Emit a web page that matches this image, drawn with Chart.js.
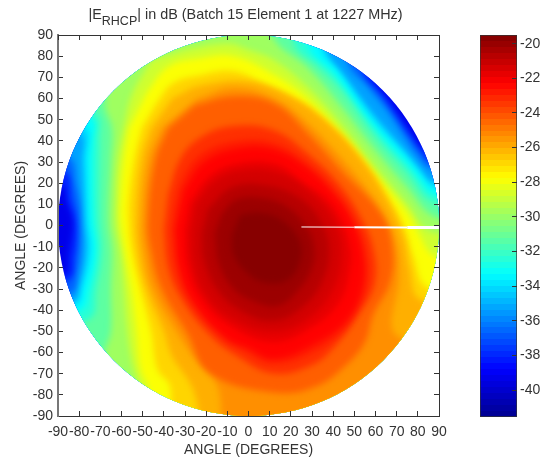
<!DOCTYPE html>
<html>
<head>
<meta charset="utf-8">
<script src="https://cdn.jsdelivr.net/npm/chart.js@4"></script>
<style>
body { margin: 0; background: #fff; }
canvas { position: absolute; left: 0; top: 0; }
#title { position: absolute; left: 0; width: 491px; top: 6px; text-align: center; font: 14.4px "Liberation Sans", Arial, sans-serif; color: #333; white-space: nowrap; }
#title span { font-size: 12.5px; position: relative; top: 6px; }
</style>
</head>
<body>
<canvas id="myChart" width="550" height="461"></canvas>
<canvas id="colorBar" width="550" height="461"></canvas>
<div id="title">|E<span>RHCP</span>| in dB (Batch 15 Element 1 at 1227 MHz)</div>
<script>
const angleTicks = [-90, -80, -70, -60, -50, -40, -30, -20, -10, 0, 10, 20, 30, 40, 50, 60, 70, 80, 90];
const dbTicks = [-40, -38, -36, -34, -32, -30, -28, -26, -24, -22, -20];
const dbMin = -41.55;
const dbMax = -19.5;
const jetStops = [[0, 0, 0, 143], [0.125, 0, 0, 255], [0.375, 0, 255, 255], [0.625, 255, 255, 0], [0.875, 255, 0, 0], [1, 128, 0, 0]];
const seamLine = [[25, -0.7], [50, -0.8], [75, -1], [90, -1]];
const seamWidths = [1, 2, 3];

// contour levels in dB, each with the outline of the area above that level
const levels = [-39.8, -38.8, -37.4, -36, -34.6, -33.8, -32.8, -32, -30.5, -29.2, -28.4, -27.3, -26.4, -25.7, -25, -23.6, -23, -22.7, -21.9, -21.6, -21, -20.4, -19.8];
const c398 = [[-120, 120], [-120, -120], [120, -120], [120, 120]];
const c388 = [[-110, 110], [-110, 24], [-87.5, 18], [-86, 12], [-83, 2.5], [-83.5, -5], [-85, -14], [-86.5, -22.5], [-110, -30], [-110, -110], [110, -110], [110, 36], [82, 37], [78, 42], [72, 51], [66, 60], [60, 68], [55, 110]];
const c374 = [[-110, 110], [-110, 40], [-86, 25], [-83.5, 12], [-81, 2.5], [-81, -8], [-82, -15], [-84, -25], [-110, -35], [-110, -110], [110, -110], [110, 28], [86, 30], [82, 34], [76, 42], [69, 52], [62, 62], [54, 72], [50, 110]];
const c360 = [[-110, 110], [-110, 48], [-84.5, 32], [-81.5, 20], [-79.5, 10], [-79, 2.5], [-79, -10], [-80.5, -22], [-83.5, -32], [-110, -40], [-110, -110], [110, -110], [110, 22], [86, 27], [80, 33], [73, 43], [65, 55], [56, 66], [47, 77], [42, 110]];
const c346 = [[-110, 110], [-110, 60], [-79.5, 43], [-78.5, 30], [-77.5, 12], [-77, 2], [-76.5, -12], [-79, -28], [-82, -36], [-110, -45], [-110, -110], [110, -110], [110, 16], [86, 21], [80, 27.5], [72, 37], [64, 46.5], [56, 56], [48, 66], [38, 79], [33, 110]];
const c338 = [[-110, 110], [-110, 70], [-77, 46], [-76.5, 31], [-76, 12], [-75.8, 2], [-74.7, -12], [-78.5, -30], [-81, -37], [-110, -48], [-110, -110], [110, -110], [110, 14], [87, 18.5], [81, 25], [74, 33.5], [66, 42], [59, 50], [51, 61], [42, 74], [35, 82], [28, 110]];
const c328 = [[-110, 110], [-110, 78], [-73.5, 50], [-73.5, 40], [-74, 31], [-73.5, 3], [-72, -12], [-75.5, -30.6], [-79, -40], [-110, -52], [-110, -110], [110, -110], [110, 11], [87, 15], [81, 21.5], [75, 29], [67, 37.5], [60, 45.5], [50, 58], [40, 72], [29, 83], [23, 110]];
const c320 = [[-110, 110], [-110, 85], [-72, 53], [-70.5, 40], [-70.5, 31], [-70.5, 3], [-69.5, -12], [-72, -30.6], [-75, -44], [-110, -55], [-110, -110], [110, -110], [110, 8], [87, 11], [75, 25], [60, 42], [44, 64], [33, 75], [22, 85], [18, 110]];
const c305 = [[-60, 110], [-67.7, 57.7], [-64.5, 46], [-65, 31], [-66, 2.5], [-64.5, -12], [-65, -30], [-65, -50], [-68, -60], [-75, -110], [110, -110], [110, 1], [88, 4], [75, 18], [60, 35.5], [44, 56], [28, 74.5], [12, 88], [5, 110]];
const c292 = [[-46, 78], [-55, 62], [-59, 46], [-62, 27.5], [-62.5, 12], [-62.5, 0], [-60.5, -12], [-59, -30.6], [-57.4, -49.5], [-55, -65], [-52, -76], [-50, -110], [110, -110], [110, -6], [86, -3], [75, 10], [60, 28], [44, 48], [28, 65.5], [12.5, 78], [0, 83], [-10, 86], [-30, 83]];
const c284 = [[-56.5, 46], [-59, 31], [-60.5, 12], [-60.5, 2.5], [-58.5, -12], [-55.5, -30], [-53, -50], [-51, -68], [-47, -78], [-44, -110], [110, -110], [110, -25], [87, -14], [81, -5], [75, 6], [60, 24], [44, 43.5], [28, 60], [12.5, 71], [-7, 80], [-23, 79], [-38, 75], [-48, 63]];
const c273 = [[-50.5, 46], [-54, 31], [-56.5, 12], [-56.5, 2.5], [-55, -12], [-51, -30], [-46, -50], [-43, -68], [-37, -76], [-34, -110], [110, -110], [110, -37], [84, -29], [78, -15], [74, -2], [68, 10], [56, 28], [40, 45.5], [24, 58.5], [8, 66.5], [-7, 73], [-23, 71], [-36, 67], [-44, 57]];
const c264 = [[-46, 46], [-50.5, 31], [-53, 2.5], [-52, -12], [-48, -30], [-40, -50], [-36, -62], [-27.6, -74.5], [-24, -85], [-20, -110], [110, -110], [110, -40], [81, -35], [76, -20], [73, -5], [65, 13], [52, 33], [36, 50], [20, 61], [0, 68], [-23, 66], [-36, 60]];
const c257 = [[-41, 46], [-47, 31], [-50, 2.5], [-49, -12], [-45, -30], [-34, -50], [-26, -62], [-15, -75], [-6, -110], [110, -110], [110, -60], [70, -52], [71, -25], [70, -10], [65, 3], [56, 17], [40, 36], [26, 50], [12, 60], [-7, 65], [-24, 60]];
const c250 = [[-38, 46], [-44, 31], [-47.5, 2.5], [-46, -12], [-41, -30], [-29, -50.8], [-18, -70], [13.5, -79], [32, -76], [46, -66], [55, -55], [59, -42], [66.8, -27], [68, -11], [63, 5], [44, 26], [28, 43.5], [12.5, 57.5], [-7, 61], [-25, 57]];
const c236 = [[-40, -2], [-38, -20], [-32, -34], [-19, -51], [-5, -62], [12, -70], [30, -66], [40, -58], [52, -42], [59.7, -27], [59, -11], [54, 2], [44, 18], [28, 34], [12, 45], [-7, 47], [-22, 42], [-32, 32], [-38, 15]];
const c230 = [[-36, -2], [-34, -20], [-28, -35], [-14, -51], [-2, -59], [12, -65], [30, -60], [44, -50], [52, -38], [56, -27], [55, -11], [50, 2], [42, 15], [28, 29], [12, 39], [-5, 40], [-22, 34], [-31, 22], [-35, 8]];
const c227 = [[-34.5, -2], [-32.5, -20], [-26, -36], [-11, -53], [0, -58], [12, -63], [31, -56], [47, -44], [54, -28], [53.5, -11], [48.5, 3], [41, 14], [28, 27], [12, 36], [-4.5, 36.5], [-21, 30], [-30.5, 17]];
const c219 = [[-30, -2.5], [-28.5, -19], [-22, -34.5], [-8.5, -47.5], [12, -55], [30, -48], [43, -36], [48, -20], [48, -10], [43.5, 3], [35, 14], [26, 20], [13, 29], [-4, 29.5], [-18, 23.5], [-27.5, 11]];
const c216 = [[-27, -3], [-26, -18], [-20, -33], [-8, -44], [12, -50], [28, -44], [40, -30], [44, -12], [40, 3], [30, 15], [14, 25], [-4, 26], [-16, 21], [-25, 10]];
const c210 = [[-22, -4], [-21, -16], [-15, -30], [-4, -40], [12, -45], [26, -38], [35, -26], [38, -11], [34, 2], [24, 13], [8, 19], [-8, 18], [-19, 8]];
const c204 = [[-16, -4], [-14, -18], [-7, -30], [3, -36], [14, -38], [24, -30], [30, -20], [31, -10], [27, 0], [18, 9], [6, 13], [-6, 12], [-13, 5]];
const c198 = [[-8, -5], [-7, -14], [0, -23], [8, -27], [18, -26], [24, -18], [24, -7], [15, 3], [5, 6], [-4, 5]];
const contours = [c398, c388, c374, c360, c346, c338, c328, c320, c305, c292, c284, c273, c264, c257, c250, c236, c230, c227, c219, c216, c210, c204, c198];

function jet(db) {
    const t = Math.min(1, Math.max(0, (db - dbMin) / (dbMax - dbMin)));
    let i = 0;
    while (i < jetStops.length - 2 && t > jetStops[i + 1][0]) i++;
    const a = jetStops[i], b = jetStops[i + 1];
    const f = (t - a[0]) / (b[0] - a[0]);
    const c = [1, 2, 3].map(k => Math.round(a[k] + (b[k] - a[k]) * f));
    return 'rgb(' + c.join(',') + ')';
}

const toPoints = list => list.map(p => ({ x: p[0], y: p[1] }));

const contourSets = contours.map((outline, i) => {
    const next = i + 1 < levels.length ? levels[i + 1] : levels[i] + 0.3;
    return {
        data: toPoints(outline),
        showLine: true,
        fill: 'shape',
        backgroundColor: jet((levels[i] + next) / 2),
        borderWidth: 0,
        pointRadius: 0,
        tension: i === 0 ? 0 : 0.4,
        order: 100 - i
    };
});

const seamSet = {
    data: toPoints(seamLine),
    showLine: true,
    borderColor: '#fff',
    borderWidth: 2,
    pointRadius: 0,
    order: 0,
    segment: { borderWidth: c => seamWidths[c.p0DataIndex] }
};

// only the disc is shown, the contour bands are softened so they run together
const discClip = {
    id: 'discClip',
    beforeDatasetsDraw(chart) {
        const x = chart.scales.x, y = chart.scales.y, ctx = chart.ctx;
        const cx = x.getPixelForValue(0), cy = y.getPixelForValue(0);
        ctx.save();
        ctx.beginPath();
        ctx.arc(cx, cy, x.getPixelForValue(90) - cx, 0, Math.PI * 2);
        ctx.clip();
        ctx.filter = 'blur(3px)';
    },
    beforeDatasetDraw(chart, args) {
        if (args.index === contourSets.length) chart.ctx.filter = 'none';
    },
    afterDatasetsDraw(chart) {
        chart.ctx.restore();
    }
};

const setTicks = list => scale => { scale.ticks = list.map(v => ({ value: v })); };
const tickFont = { family: '"Liberation Sans", Arial, sans-serif', size: 14 };

function angleAxis(position, size, labels, borderColor, borderWidth) {
    const horizontal = position === 'top' || position === 'bottom';
    return {
        type: 'linear',
        position: position,
        min: -90,
        max: 90,
        afterBuildTicks: setTicks(angleTicks),
        afterFit(scale) {
            if (horizontal) scale.height = size; else scale.width = size;
        },
        grid: { drawOnChartArea: false, tickLength: -5, tickColor: '#333', z: 1 },
        border: { color: borderColor, width: borderWidth, z: 1 },
        ticks: {
            display: labels,
            autoSkip: false,
            maxRotation: 0,
            font: tickFont,
            color: '#333',
            padding: horizontal ? 13 : 10
        },
        title: {
            display: labels,
            text: 'ANGLE (DEGREES)',
            font: tickFont,
            color: '#333',
            padding: horizontal ? { top: 0, bottom: 2 } : { top: 13, bottom: 0 }
        }
    };
}

const myChart = new Chart(document.getElementById('myChart').getContext('2d'), {
    type: 'scatter',
    data: { datasets: contourSets.concat([seamSet]) },
    options: {
        responsive: false,
        animation: false,
        layout: { padding: 0 },
        plugins: { legend: { display: false }, tooltip: { enabled: false } },
        scales: {
            x: angleAxis('bottom', 45, true, '#333', 1),
            y: angleAxis('left', 58, true, '#777', 2),
            xTop: angleAxis('top', 35, false, '#333', 1),
            yRight: angleAxis('right', 111, false, '#333', 1)
        }
    },
    plugins: [discClip]
});

function barGradient(context) {
    const area = context.chart.chartArea;
    if (!area) return '#000';
    const g = context.chart.ctx.createLinearGradient(0, area.bottom, 0, area.top);
    const bands = 64;
    for (let i = 0; i < bands; i++) {
        const color = jet(dbMin + (dbMax - dbMin) * (i + 0.5) / bands);
        g.addColorStop(i / bands, color);
        g.addColorStop((i + 1) / bands, color);
    }
    return g;
}

const colorBar = new Chart(document.getElementById('colorBar').getContext('2d'), {
    type: 'bar',
    data: {
        labels: [''],
        datasets: [{
            data: [[dbMin, dbMax]],
            backgroundColor: barGradient,
            borderColor: '#333',
            borderWidth: 1,
            borderSkipped: false,
            barPercentage: 1,
            categoryPercentage: 1
        }]
    },
    options: {
        responsive: false,
        animation: false,
        layout: { padding: { left: 480, top: 35, bottom: 44 } },
        plugins: { legend: { display: false }, tooltip: { enabled: false } },
        scales: {
            x: { display: false },
            y: {
                position: 'right',
                min: dbMin,
                max: dbMax,
                afterBuildTicks: setTicks(dbTicks),
                afterFit(scale) { scale.width = 33; },
                grid: { drawOnChartArea: false, tickLength: -5, tickColor: '#333', z: 1 },
                border: { display: false },
                ticks: { font: tickFont, color: '#333', padding: 8, autoSkip: false }
            }
        }
    }
});
</script>
</body>
</html>
